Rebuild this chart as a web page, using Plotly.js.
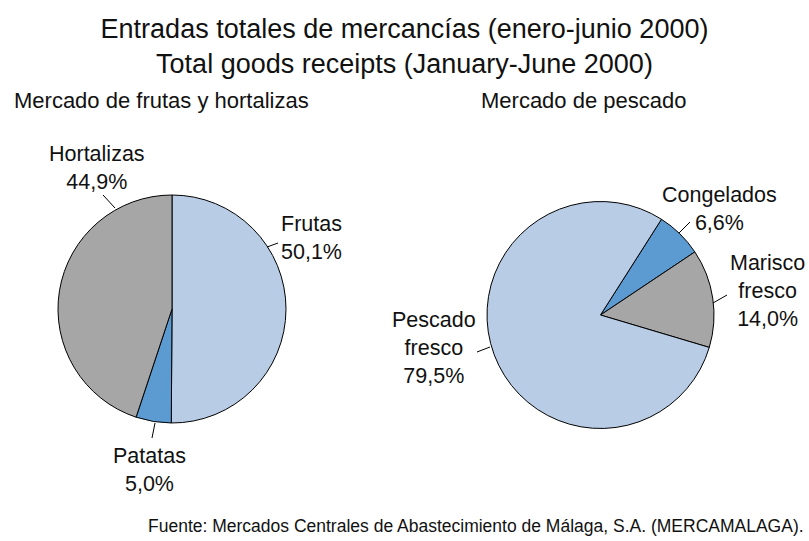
<!DOCTYPE html>
<html><head><meta charset="utf-8">
<script src="https://cdn.plot.ly/plotly-3.0.1.min.js"></script>
<style>body{margin:0;padding:0;background:#fff}#chart{width:809px;height:541px}</style>
</head><body><div id="chart"></div>
<script>
const frutasLabels = ["Frutas", "Patatas", "Hortalizas"];
const frutasValues = [50.1, 5.0, 44.9];
const pescadoLabels = ["Congelados", "Marisco fresco", "Pescado fresco"];
const pescadoValues = [6.6, 14.0, 79.5];
const pescadoLabelLines = ["Congelados", "Marisco<br>fresco", "Pescado<br>fresco"];
const titleText = "Entradas totales de mercancías (enero-junio 2000)<br>Total goods receipts (January-June 2000)";
const subtitleLeft = "Mercado de frutas y hortalizas";
const subtitleRight = "Mercado de pescado";
const sourceText = "Fuente: Mercados Centrales de Abastecimiento de Málaga, S.A. (MERCAMALAGA).";

const colorsLeft = ["#b8cce6", "#5b9bd1", "#a6a6a6"];
const colorsRight = ["#5b9bd1", "#a6a6a6", "#b8cce6"];
const W = 809, H = 541;
const FONT = "Liberation Sans, Arial, sans-serif";
const px = x => x / W, py = y => 1 - y / H;
const fmt = v => v.toFixed(1).replace(".", ",") + "%";

const traces = [
  {type: "pie", labels: frutasLabels, values: frutasValues, sort: false, direction: "clockwise", rotation: 0,
   marker: {colors: colorsLeft, line: {color: "#000", width: 1}}, textinfo: "none", hoverinfo: "label+percent",
   domain: {x: [px(58), px(286)], y: [py(423), py(195)]}, showlegend: false},
  {type: "pie", labels: pescadoLabels, values: pescadoValues, sort: false, direction: "clockwise", rotation: 32.5,
   marker: {colors: colorsRight, line: {color: "#000", width: 1}}, textinfo: "none", hoverinfo: "label+percent",
   domain: {x: [px(487), px(714)], y: [py(429), py(201)]}, showlegend: false}
];

const labelPos = {
  "Frutas": [311, 238], "Patatas": [149, 470], "Hortalizas": [97, 168],
  "Congelados": [719, 209], "Marisco fresco": [767, 291], "Pescado fresco": [434, 348]
};
const leaders = [
  [267, 247, 278, 243], [155, 423, 152, 438], [115, 208, 103, 195],
  [679, 233, 690, 222], [713, 303, 727, 295], [477, 352, 490, 347]
];
const LBL = 21.5;

const annotations = [];
frutasLabels.forEach((l, i) => {
  const p = labelPos[l];
  annotations.push({xref: "paper", yref: "paper", x: px(p[0]), y: py(p[1]), text: l + "<br>" + fmt(frutasValues[i]),
    showarrow: false, xanchor: "center", yanchor: "middle", font: {size: LBL, color: "#111", family: FONT}});
});
pescadoLabels.forEach((l, i) => {
  const p = labelPos[l];
  annotations.push({xref: "paper", yref: "paper", x: px(p[0]), y: py(p[1]), text: pescadoLabelLines[i] + "<br>" + fmt(pescadoValues[i]),
    showarrow: false, xanchor: "center", yanchor: "middle", font: {size: LBL, color: "#111", family: FONT}});
});
annotations.push({xref: "paper", yref: "paper", x: px(12), y: py(100), text: subtitleLeft, showarrow: false,
  xanchor: "left", yanchor: "middle", font: {size: 22, color: "#111", family: FONT}});
annotations.push({xref: "paper", yref: "paper", x: px(479), y: py(100), text: subtitleRight, showarrow: false,
  xanchor: "left", yanchor: "middle", font: {size: 22, color: "#111", family: FONT}});
annotations.push({xref: "paper", yref: "paper", x: px(806), y: py(526), text: sourceText, showarrow: false,
  xanchor: "right", yanchor: "middle", font: {size: 17.5, color: "#111", family: FONT}});

const shapes = leaders.map(s => ({type: "line", xref: "paper", yref: "paper",
  x0: px(s[0]), y0: py(s[1]), x1: px(s[2]), y1: py(s[3]), line: {color: "#000", width: 1}}));

const layout = {
  width: W, height: H, margin: {l: 0, r: 0, t: 0, b: 0},
  paper_bgcolor: "#fff", plot_bgcolor: "#fff",
  title: {text: titleText, x: 0.5, xanchor: "center", y: py(38), yanchor: "middle", yref: "paper",
    font: {size: 27, color: "#111", family: FONT}},
  annotations: annotations, shapes: shapes, showlegend: false
};
Plotly.newPlot("chart", traces, layout, {displayModeBar: false, staticPlot: true});
</script></body></html>
